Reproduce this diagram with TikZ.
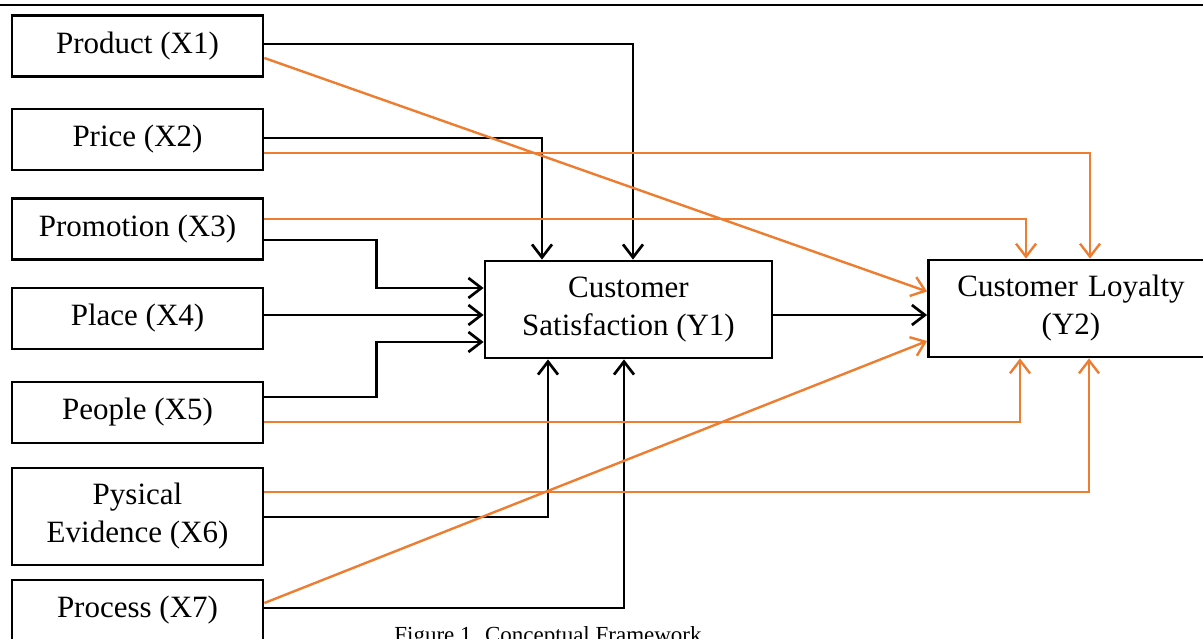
\documentclass[tikz,border=0pt]{standalone}
\usepackage{fontspec}
\setmainfont{Liberation Serif}
\usetikzlibrary{arrows.meta}
\definecolor{orng}{RGB}{237,125,49}
\begin{document}
\begin{tikzpicture}[x=1pt,y=-1pt,
  box/.style={draw=black,line width=2.8pt,rectangle,inner sep=0pt,
    font=\fontsize{31}{38}\selectfont,align=center},
  src/.style={box,minimum width=251pt,minimum height=61pt},
  blk/.style={draw=black,line width=2.7pt,-{Straight Barb[length=13pt,width=20pt,line width=2.7pt]}},
  org/.style={draw=orng,line width=2.4pt,-{Straight Barb[length=13pt,width=20pt,line width=2.4pt]}}]
\clip (0,0) rectangle (1203,639);
\useasboundingbox (0,0) rectangle (1203,639);
\fill[white] (0,0) rectangle (1203,639);
\draw[line width=2.6pt] (0,5) -- (1203,5);
% source boxes
\node[src] (x1) at (137.5,46) {Product (X1)};
\node[src] (x2) at (137.5,139.5) {Price (X2)};
\node[src] (x3) at (137.5,229) {Promotion (X3)};
\node[src] (x4) at (137.5,318.5) {Place (X4)};
\node[src] (x5) at (137.5,412.5) {People (X5)};
\node[src,minimum height=97pt] (x6) at (137.5,516.5) {Pysical\\Evidence (X6)};
\node[src] (x7) at (137.5,610.5) {Process (X7)};
% targets
\node[box,minimum width=287pt,minimum height=97pt] (y1) at (628.5,309.5) {Customer\\Satisfaction (Y1)};
\node[box,minimum width=285pt,minimum height=97pt,text width=285pt] (y2) at (1071,308.5) {Customer Loyalty\\(Y2)};
% caption
\node[anchor=base,font=\fontsize{23}{28}\selectfont,inner sep=0pt] (cap) at (548,642) {Figure 1. Conceptual Framework};
% black connectors to Y1
\draw[blk] ([yshift=2pt]x1.east) -| ([xshift=4.5pt]y1.north);
\draw[blk] ([yshift=1.5pt]x2.east) -| ([xshift=-86.5pt]y1.north);
\draw[blk] ([yshift=-11pt]x3.east) -- ++(112,0) |- ([yshift=21.5pt]y1.west);
\draw[blk] ([yshift=3.5pt]x4.east) -- ([yshift=-5.5pt]y1.west);
\draw[blk] ([yshift=15.5pt]x5.east) -- ++(112,0) |- ([yshift=-32.5pt]y1.west);
\draw[blk] ([yshift=-0.5pt]x6.east) -| ([xshift=-80.5pt]y1.south);
\draw[blk] ([yshift=2.5pt]x7.east) -| ([xshift=-4.5pt]y1.south);
\draw[blk] ([yshift=-5.5pt]y1.east) -- ([yshift=-6.5pt]y2.west);
% orange connectors to Y2
\draw[org] ([yshift=-12pt]x1.east) -- ([yshift=17pt]y2.west);
\draw[org] ([yshift=-13.5pt]x2.east) -| ([xshift=19pt]y2.north);
\draw[org] ([yshift=10pt]x3.east) -| ([xshift=-45pt]y2.north);
\draw[org] ([yshift=-9.5pt]x5.east) -| ([xshift=-51pt]y2.south);
\draw[org] ([yshift=24.5pt]x6.east) -| ([xshift=18pt]y2.south);
\draw[org] ([yshift=7.5pt]x7.east) -- ([yshift=-32.5pt]y2.west);
\end{tikzpicture}
\end{document}
